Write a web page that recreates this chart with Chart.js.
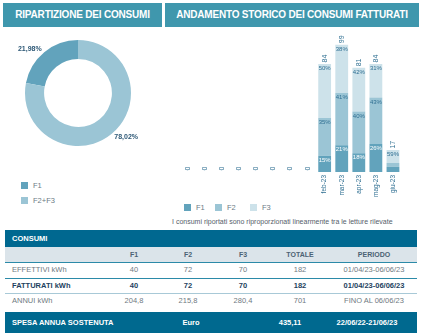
<!DOCTYPE html>
<html lang="it">
<head>
<meta charset="utf-8">
<script src="https://cdn.jsdelivr.net/npm/chart.js@4.4.1/dist/chart.umd.min.js"></script>
<style>
  html, body { margin: 0; padding: 0; background: #fff; }
  body { width: 422px; height: 336px; position: relative; overflow: hidden; font-family: "Liberation Sans", Arial, sans-serif; }
  .band { position: absolute; background: #3f97ad; color: #fff; font-weight: bold; text-align: center; line-height: 24px; height: 24px; top: 3px; letter-spacing: -0.2px; white-space: nowrap; }
  .abs { position: absolute; }
  .legend { position: absolute; font-size: 7.5px; color: #6b7b86; }
  .legend .sw { position: absolute; width: 7px; height: 7px; }
  .legend .tx { position: absolute; line-height: 8px; white-space: nowrap; }
</style>
</head>
<body>
<div class="band" style="left:3px;width:159px;font-size:10px;">RIPARTIZIONE DEI CONSUMI</div>
<div class="band" style="left:165px;width:254px;font-size:10px;">ANDAMENTO STORICO DEI CONSUMI FATTURATI</div>

<canvas id="donut" class="abs" style="left:18px;top:33px;width:120px;height:120px;"></canvas>
<div id="donutLegend" class="legend" style="left:0;top:0;"></div>

<canvas id="bars" class="abs" style="left:170px;top:28px;width:240px;height:172px;"></canvas>
<div id="barLegend" class="legend" style="left:0;top:0;"></div>
<div class="abs" style="left:172px;top:218px;font-size:7px;color:#55606a;white-space:nowrap;">I consumi riportati sono riproporzionati linearmente tra le letture rilevate</div>

<div id="table"></div>

<script>
// Ripartizione dei consumi (quota F1 e F2+F3)
const pieLabels = ['F1', 'F2+F3'];
const pieValues = [21.98, 78.02];
const pieColors = ['#62a3bc', '#9bc5d5'];

// Andamento storico mensile dei consumi fatturati (kWh per fascia)
const months = ['giu-22', 'lug-22', 'ago-22', 'set-22', 'ott-22', 'nov-22', 'dic-22', 'gen-23',
                'feb-23', 'mar-23', 'apr-23', 'mag-23', 'giu-23'];
const f1Values = [0, 0, 0, 0, 0, 0, 0, 0, 12.6, 20.8, 14.6, 21.8, 4];
const f2Values = [0, 0, 0, 0, 0, 0, 0, 0, 29.4, 40.6, 32.4, 36.1, 3];
const f3Values = [0, 0, 0, 0, 0, 0, 0, 0, 42.0, 37.6, 34.0, 26.1, 10];
const seriesNames = ['F1', 'F2', 'F3'];
const seriesColors = ['#62a3bc', '#9bc5d5', '#cde2ea'];

// Tabella consumi
const tableCols = ['F1', 'F2', 'F3', 'TOTALE', 'PERIODO'];
const effettivi = ['40', '72', '70', '182', '01/04/23-06/06/23'];
const fatturati = ['40', '72', '70', '182', '01/04/23-06/06/23'];
const annui = ['204,8', '215,8', '280,4', '701', 'FINO AL 06/06/23'];
const spesa = ['Euro', '435,11', '22/06/22-21/06/23'];

const valueColor = '#2f6f92';

// ---------- Donut ----------
const pieTotal = pieValues.reduce((a, b) => a + b, 0);
const pieLabelPlugin = {
  id: 'pieLabels',
  afterDatasetsDraw(chart) {
    const ctx = chart.ctx;
    const meta = chart.getDatasetMeta(0);
    ctx.save();
    ctx.font = 'bold 7px "Liberation Sans", Arial, sans-serif';
    ctx.fillStyle = '#2d5876';
    ctx.textBaseline = 'middle';
    meta.data.forEach((arc, i) => {
      const mid = (arc.startAngle + arc.endAngle) / 2;
      const r = arc.outerRadius + 4;
      const x = arc.x + Math.cos(mid) * r;
      const y = arc.y + Math.sin(mid) * r;
      ctx.textAlign = Math.cos(mid) < 0 ? 'right' : 'left';
      ctx.fillText(pieValues[i].toFixed(2).replace('.', ',') + '%', x, y);
    });
    ctx.restore();
  }
};

new Chart(document.getElementById('donut'), {
  type: 'doughnut',
  data: {
    labels: pieLabels,
    datasets: [{ data: pieValues, backgroundColor: pieColors, borderWidth: 0 }]
  },
  options: {
    responsive: false,
    animation: false,
    cutout: '64%',
    rotation: -pieValues[0] / pieTotal * 360,
    layout: { padding: 7 },
    plugins: { legend: { display: false }, tooltip: { enabled: false } }
  },
  plugins: [pieLabelPlugin]
});

// ---------- Stacked bars ----------
const totals = months.map((_, j) => f1Values[j] + f2Values[j] + f3Values[j]);
const seriesValues = [f1Values, f2Values, f3Values];

const barLabelPlugin = {
  id: 'barLabels',
  afterDatasetsDraw(chart) {
    const ctx = chart.ctx;
    ctx.save();
    // percentuali dentro i segmenti
    ctx.font = '6px "Liberation Sans", Arial, sans-serif';
    ctx.textAlign = 'center';
    ctx.textBaseline = 'top';
    chart.data.datasets.forEach((ds, i) => {
      const meta = chart.getDatasetMeta(i);
      meta.data.forEach((bar, j) => {
        const v = ds.data[j];
        if (!totals[j] || bar.base - bar.y < 9) return;
        ctx.fillStyle = i === 0 ? '#ffffff' : valueColor;
        ctx.fillText(Math.round(v / totals[j] * 100) + '%', bar.x, bar.y + 1.5);
      });
    });
    // totali sopra le colonne, ruotati
    const top = chart.getDatasetMeta(2).data;
    const yScale = chart.scales.y;
    ctx.font = '7px "Liberation Sans", Arial, sans-serif';
    ctx.fillStyle = valueColor;
    ctx.textAlign = 'left';
    ctx.textBaseline = 'middle';
    top.forEach((bar, j) => {
      const yTop = yScale.getPixelForValue(totals[j]);
      ctx.save();
      ctx.translate(bar.x, yTop - 1.5);
      ctx.rotate(-Math.PI / 2);
      ctx.fillText(String(Math.round(totals[j])), 0, 0);
      ctx.restore();
    });
    ctx.restore();
  }
};

new Chart(document.getElementById('bars'), {
  type: 'bar',
  data: {
    labels: months,
    datasets: seriesValues.map((vals, i) => ({
      label: seriesNames[i],
      data: vals,
      backgroundColor: seriesColors[i],
      borderWidth: 0,
      barPercentage: 0.75,
      categoryPercentage: 1.0
    }))
  },
  options: {
    responsive: false,
    animation: false,
    layout: { padding: { left: 9.5, right: 8.5, top: 0, bottom: 0 } },
    scales: {
      x: {
        stacked: true,
        grid: { display: false, drawTicks: false },
        border: { display: false },
        ticks: {
          autoSkip: false, maxRotation: 90, minRotation: 90, padding: 3,
          color: '#2f6f92',
          font: { size: 6.5, family: '"Liberation Sans", Arial, sans-serif' },
          callback: (v, j) => totals[j] ? months[j] : ''
        }
      },
      y: { stacked: true, display: false, min: 0, max: 112 }
    },
    plugins: { legend: { display: false }, tooltip: { enabled: false } }
  },
  plugins: [barLabelPlugin]
});

// ---------- Legende ----------
function buildLegend(el, names, colors, positions) {
  names.forEach((n, i) => {
    const p = positions[i];
    const sw = document.createElement('div');
    sw.className = 'sw';
    sw.style.left = p[0] + 'px'; sw.style.top = p[1] + 'px';
    sw.style.background = colors[i];
    const tx = document.createElement('div');
    tx.className = 'tx';
    tx.style.left = (p[0] + 12) + 'px'; tx.style.top = (p[1] - 0.5) + 'px';
    tx.textContent = n;
    el.appendChild(sw); el.appendChild(tx);
  });
}
buildLegend(document.getElementById('donutLegend'), pieLabels, pieColors, [[21, 182], [21, 197]]);
buildLegend(document.getElementById('barLegend'), seriesNames, seriesColors, [[184, 204], [215, 204], [250, 204]]);

// ---------- Tabella ----------
const colX = [134, 188, 243, 300, 374];
const spesaX = [191, 290, 367];
const t = document.getElementById('table');
function addDiv(style, html) {
  const d = document.createElement('div');
  d.setAttribute('style', style);
  d.innerHTML = html;
  t.appendChild(d);
  return d;
}
addDiv('position:absolute;left:5px;top:230px;width:412px;height:17px;background:#006890;', '');
addDiv('position:absolute;left:12px;top:230px;line-height:17px;font-size:7.5px;font-weight:bold;color:#fff;', 'CONSUMI');
addDiv('position:absolute;left:5px;top:247px;width:412px;height:15px;background:#dbe4ea;', '');
addDiv('position:absolute;left:5px;top:261.5px;width:412px;height:1.5px;background:#2b8aa8;', '');
addDiv('position:absolute;left:5px;top:277.5px;width:412px;height:1.5px;background:#2b8aa8;', '');
addDiv('position:absolute;left:5px;top:293px;width:412px;height:1px;background:#a8c9d7;', '');
addDiv('position:absolute;left:5px;top:312px;width:412px;height:21px;background:#00698f;', '');

function addRow(y, label, vals, style) {
  addDiv('position:absolute;left:12px;top:' + y + 'px;line-height:10px;font-size:7.5px;white-space:nowrap;' + style, label);
  vals.forEach((v, i) => {
    addDiv('position:absolute;left:' + colX[i] + 'px;top:' + y + 'px;line-height:10px;font-size:7.5px;white-space:nowrap;transform:translateX(-50%);' + style, v);
  });
}
addRow(249.5, '', tableCols, 'font-weight:bold;color:#4b6274;font-size:7px;');
addRow(265, 'EFFETTIVI kWh', effettivi, 'color:#6f7a82;');
addRow(281, 'FATTURATI kWh', fatturati, 'font-weight:bold;color:#1d3f5e;');
addRow(296, 'ANNUI kWh', annui, 'color:#6f7a82;');
addDiv('position:absolute;left:12px;top:317.5px;line-height:10px;font-size:7.5px;font-weight:bold;color:#fff;white-space:nowrap;', 'SPESA ANNUA SOSTENUTA');
spesa.forEach((v, i) => {
  addDiv('position:absolute;left:' + spesaX[i] + 'px;top:317.5px;line-height:10px;font-size:7.5px;font-weight:bold;color:#fff;white-space:nowrap;transform:translateX(-50%);', v);
});
</script>
</body>
</html>
